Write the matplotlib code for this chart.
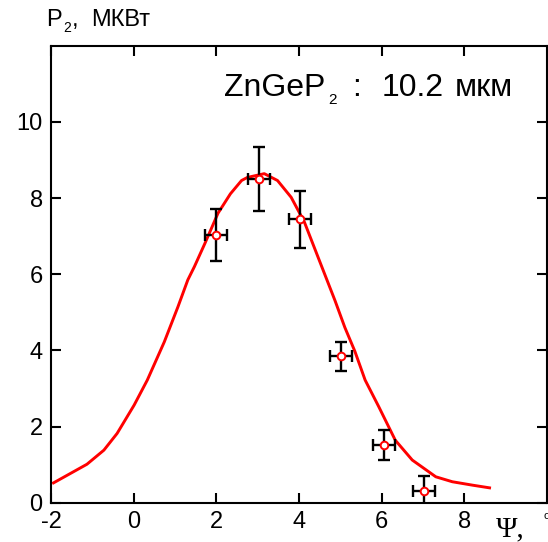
import numpy as np
import matplotlib
matplotlib.use('Agg')
import matplotlib.pyplot as plt

plt.rcParams['font.family'] = ['Liberation Sans', 'DejaVu Sans']
plt.rcParams['axes.unicode_minus'] = False

# fitted curve
curve_x = [-1.94, -1.13, -0.72, -0.40, 0.01, 0.33, 0.74, 1.07, 1.31, 1.47, 1.72, 2.04,
           2.34, 2.61, 2.75, 3.16, 3.48, 3.81, 4.13, 4.46, 4.87, 5.11, 5.35, 5.60,
           5.93, 6.33, 6.74, 7.31, 7.71, 8.20, 8.61]
curve_y = [0.52, 1.01, 1.38, 1.82, 2.56, 3.22, 4.22, 5.14, 5.85, 6.20, 6.80, 7.60,
           8.11, 8.46, 8.54, 8.64, 8.46, 8.02, 7.37, 6.45, 5.31, 4.60, 3.98, 3.22,
           2.52, 1.64, 1.12, 0.68, 0.55, 0.46, 0.39]

# measured points
psi = [1.99, 3.04, 4.03, 5.01, 6.05, 7.02]
p2 = [7.02, 8.50, 7.44, 3.84, 1.52, 0.31]
p2_err = [0.68, 0.84, 0.74, 0.39, 0.40, 0.38]
psi_err = [0.26, 0.27, 0.27, 0.27, 0.27, 0.27]

xticks = [-2, 0, 2, 4, 6, 8]
yticks = [0, 2, 4, 6, 8, 10]

W, H = 548, 542
fig = plt.figure(figsize=(W / 100, H / 100), dpi=100)
ax = fig.add_axes([51 / W, (H - 502.7) / H, (547 - 51) / W, (502.7 - 45.7) / H])


def ftext(x, y, s, **kw):
    # place text by pixel position (from top-left), baseline aligned
    kw.setdefault('va', 'baseline')
    fig.text(x / W, 1 - y / H, s, **kw)


ax.plot(curve_x, curve_y, color='red', lw=2.1, zorder=2)
ax.errorbar(psi, p2, yerr=p2_err, xerr=psi_err, fmt='none', ecolor='black',
            elinewidth=1.7, capsize=4, capthick=1.7, zorder=3)
ax.plot(psi, p2, 'o', ms=5.5, mfc='white', mec='red', mew=1.4, zorder=4)

ax.set_xlim(-2, 10)
ax.set_ylim(0, 12)
ax.set_xticks(xticks)
ax.set_yticks(yticks)
ax.tick_params(direction='in', length=7, width=1.5, top=True, right=True,
               labelsize=17, pad=6)
for s in ax.spines.values():
    s.set_linewidth(1.5)

# title inside the plot
ftext(224, 96, 'ZnGeP', fontsize=23)
ftext(328, 104, '2', fontsize=11)
ftext(352, 96, ':', fontsize=23)
ftext(382, 96, '10.2', fontsize=23)
ftext(455, 96, 'мкм', fontsize=23)

# y label
ftext(46, 26, 'P', fontsize=17)
ftext(63, 31.5, '2', fontsize=10)
ftext(72, 26, ',', fontsize=17)
ftext(91, 26, 'МКВт', fontsize=17)

# x label
ftext(496, 536.7, 'Ψ,', fontsize=21, family='Liberation Serif')
ftext(543, 511, 'o', fontsize=8, va='top')

fig.savefig('out.png', dpi=100)
